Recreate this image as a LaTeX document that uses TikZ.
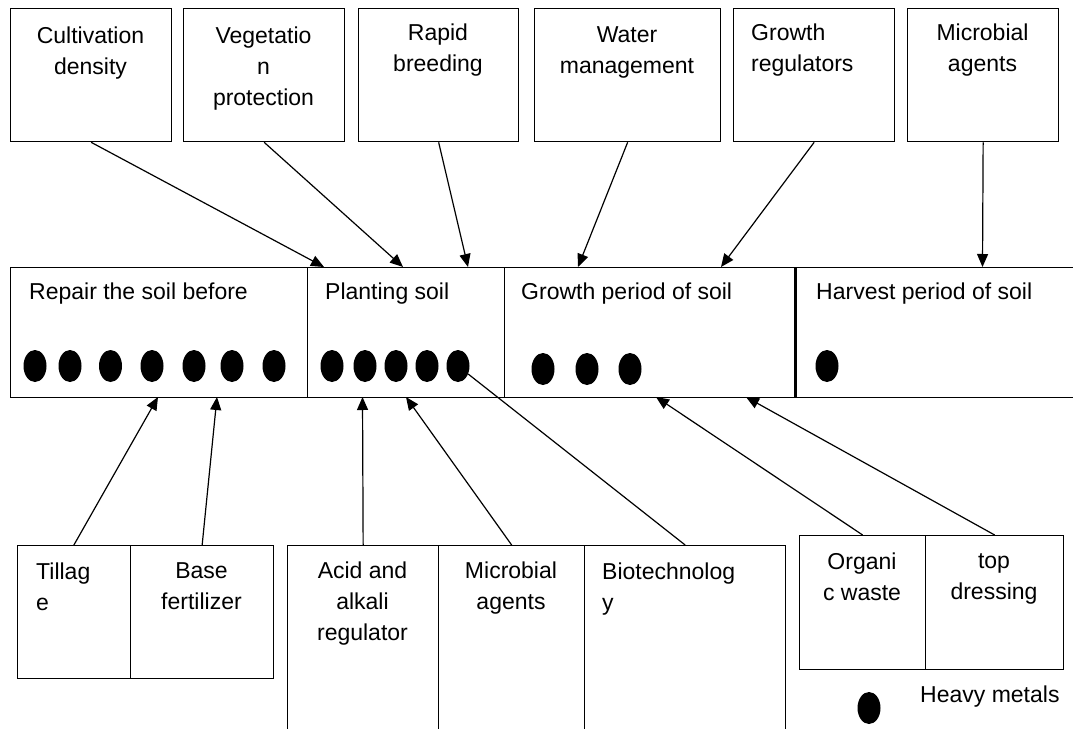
\documentclass[tikz,border=0pt]{standalone}
\usepackage{fontspec}
\setmainfont{Liberation Sans}
\usetikzlibrary{arrows.meta,shapes.geometric}
\begin{document}
\begin{tikzpicture}[x=1pt,y=-1pt,
  box/.style={draw, line width=1.3pt, inner sep=0pt, anchor=north west},
  txt/.style={font=\fontsize{23}{31}\selectfont, inner sep=0pt, align=center, anchor=north},
  ltxt/.style={font=\fontsize{23}{31}\selectfont, inner sep=0pt, align=left, anchor=north west},
  hm/.style={ellipse, fill=black, inner sep=0pt, minimum width=23pt, minimum height=32pt},
  arr/.style={line width=1.2pt, -{Triangle[length=13pt,width=11pt]}},
  conn/.style={line width=1.2pt}]
\path[use as bounding box, clip] (0,0) rectangle (1073,728);
\fill[white] (0,0) rectangle (1073,728);

% top boxes
\node[box, minimum width=161pt, minimum height=133pt] (c1) at (10,8) {};
\node[box, minimum width=161pt, minimum height=133pt] (c2) at (183,8) {};
\node[box, minimum width=160pt, minimum height=133pt] (c3) at (358,8) {};
\node[box, minimum width=186pt, minimum height=133pt] (c4) at (534,8) {};
\node[box, minimum width=161pt, minimum height=133pt] (c5) at (733,8) {};
\node[box, minimum width=151pt, minimum height=133pt] (c6) at (907,8) {};

\node[txt] (tc1) at (90.5,27) {Cultivation\\density};
\node[txt] (tc2) at (263.5,27) {Vegetatio\\n\\protection};
\node[txt] (tc3) at (438,24) {Rapid\\breeding};
\node[txt] (tc4) at (627,26) {Water\\management};
\node[ltxt] (tc5) at (751,24) {Growth\\regulators};
\node[txt] (tc6) at (982.5,24) {Microbial\\agents};

% band
\node[box, minimum width=296.5pt, minimum height=130pt] (s1) at (10,267) {};
\node[box, minimum width=197pt, minimum height=130pt] (s2) at (306.5,267) {};
\node[box, minimum width=292pt, minimum height=130pt] (s3) at (503.5,267) {};
\node[box, minimum width=300pt, minimum height=130pt] (s4) at (795.5,267) {};
\draw[line width=2.6pt] (s4.north west) -- (s4.south west);

\node[ltxt] (ts1) at (29,283) {Repair the soil before};
\node[ltxt] (ts2) at (325,283) {Planting soil};
\node[ltxt] (ts3) at (521,283) {Growth period of soil};
\node[ltxt] (ts4) at (816,283) {Harvest period of soil};

% heavy metal dots
\foreach \x [count=\i] in {35,70,110.5,152,194,232,274} \node[hm] (r\i) at (\x,366) {};
\foreach \x [count=\i] in {332,365,396,427,458} \node[hm] (p\i) at (\x,366) {};
\foreach \x [count=\i] in {543,587,630} \node[hm] (g\i) at (\x,369) {};
\node[hm] (h1) at (827,366) {};

% arrow tips on the band
\coordinate (a1) at (324,267);
\coordinate (a2) at (403,267);
\coordinate (a3) at (468,267);
\coordinate (a4) at (578,267);
\coordinate (a5) at (721,267);
\coordinate (a6) at (982.5,267);
\coordinate (b1) at (158,397);
\coordinate (b2) at (217,397);
\coordinate (b3) at (362.5,397);
\coordinate (b4) at (406,397);
\coordinate (b5) at (656,397);
\coordinate (b6) at (746,397);

% bottom boxes
\node[box, minimum width=113.5pt, minimum height=133pt] (q1) at (16.5,545) {};
\node[box, minimum width=143pt, minimum height=133pt] (q2) at (130,545) {};
\node[box, minimum width=151pt, minimum height=200pt] (q3) at (287,545) {};
\node[box, minimum width=146pt, minimum height=200pt] (q4) at (438,545) {};
\node[box, minimum width=201pt, minimum height=200pt] (q5) at (584,545) {};
\node[box, minimum width=126pt, minimum height=134pt] (q6) at (799,535) {};
\node[box, minimum width=138pt, minimum height=134pt] (q7) at (925,535) {};

\node[ltxt] (tq1) at (36,563) {Tillag\\e};
\node[txt] (tq2) at (201.5,562) {Base\\fertilizer};
\node[txt] (tq3) at (362.5,562) {Acid and\\alkali\\regulator};
\node[txt] (tq4) at (511,562) {Microbial\\agents};
\node[ltxt] (tq5) at (602,563) {Biotechnolog\\y};
\node[txt] (tq6) at (862,553) {Organi\\c waste};
\node[txt] (tq7) at (994,553) {top\\dressing};

% legend
\node[hm] (leg) at (869,708) {};
\node[ltxt] (tleg) at (920,686) {Heavy metals};

% connectors
\draw[arr] (c1.south) -- (a1);
\draw[arr] (c2.south) -- (a2);
\draw[arr] (c3.south) -- (a3);
\draw[arr] (c4.south) -- (a4);
\draw[arr] (c5.south) -- (a5);
\draw[arr] (c6.south) -- (a6);
\draw[arr] (q1.north) -- (b1);
\draw[arr] (q2.north) -- (b2);
\draw[arr] (q3.north) -- (b3);
\draw[arr] (q4.north) -- (b4);
\draw[conn] (q5.north) -- (p5);
\draw[arr] (q6.north) -- (b5);
\draw[arr] (q7.north) -- (b6);
\end{tikzpicture}
\end{document}
